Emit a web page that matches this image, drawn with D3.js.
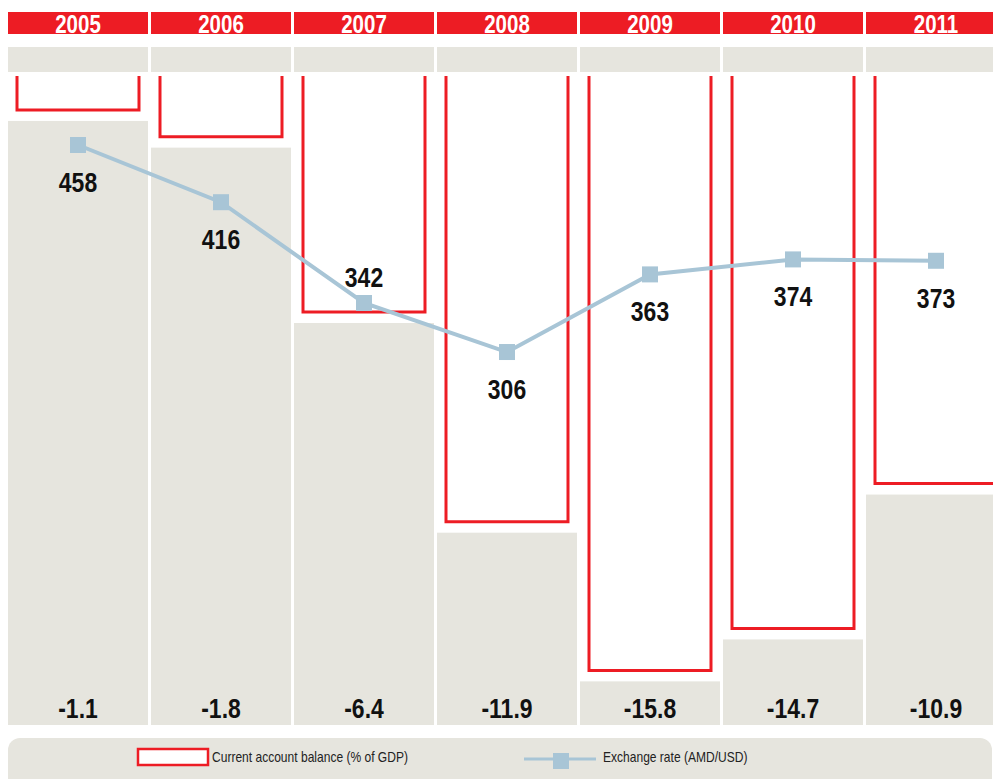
<!DOCTYPE html>
<html>
<head>
<meta charset="utf-8">
<script src="https://cdn.jsdelivr.net/npm/d3@7"></script>
<style>
  body { margin: 0; background: #fff; }
  svg { display: block; }
  .num { font-family: "Liberation Sans", Arial, sans-serif; font-weight: bold; }
  .leg { font-family: "Liberation Sans", Arial, sans-serif; }
</style>
</head>
<body>
<div id="chart"></div>
<script>
var years = ["2005", "2006", "2007", "2008", "2009", "2010", "2011"];
var balance = [-1.1, -1.8, -6.4, -11.9, -15.8, -14.7, -10.9];
var rate = [458, 416, 342, 306, 363, 374, 373];
// label above the marker only for 2007
var rateLabelAbove = [false, false, true, false, false, false, false];

var width = 993, height = 779;
var red = "#ed1c24", grey = "#e6e5de", blue = "#a8c5d6";
var narrow = 0.82; // squeeze text to look like a condensed face

var svg = d3.select("#chart").append("svg")
    .attr("width", width)
    .attr("height", height);

var x = d3.scaleBand()
    .domain(years)
    .range([8, 1006])
    .paddingInner(0.021)
    .paddingOuter(0);

var yBal = d3.scaleLinear()
    .domain([0, -16])
    .range([68, 678]);

var yRate = d3.scaleLinear()
    .domain([250, 500])
    .range([428.3, 87.8]);

var bw = x.bandwidth();
var bottom = 725;

var data = years.map(function(y, i) {
  return {year: y, bal: balance[i], rate: rate[i], above: rateLabelAbove[i]};
});

function squeeze(px, py) {
  return "translate(" + px + "," + py + ") scale(" + narrow + ",1)";
}

var cols = svg.selectAll(".col").data(data).enter()
  .append("g")
    .attr("class", "col")
    .attr("transform", function(d) { return "translate(" + x(d.year) + ",0)"; });

// year header
cols.append("rect")
    .attr("y", 12).attr("width", bw).attr("height", 22)
    .attr("fill", red);
cols.append("text")
    .attr("class", "num")
    .attr("transform", squeeze(bw / 2, 32.5))
    .attr("text-anchor", "middle")
    .attr("font-size", 25)
    .attr("fill", "#fff")
    .text(function(d) { return d.year; });

// grey band under header
cols.append("rect")
    .attr("y", 47).attr("width", bw).attr("height", 25)
    .attr("fill", grey);

// grey block below the balance bar
cols.append("rect")
    .attr("y", function(d) { return yBal(d.bal) + 11; })
    .attr("width", bw)
    .attr("height", function(d) { return bottom - yBal(d.bal) - 11; })
    .attr("fill", grey);

// open red outline for current account balance
cols.append("path")
    .attr("d", function(d) {
      return "M9," + 76 + "V" + yBal(d.bal) + "H" + (bw - 9) + "V" + 76;
    })
    .attr("fill", "none")
    .attr("stroke", red)
    .attr("stroke-width", 3);

// balance value at the bottom
cols.append("text")
    .attr("class", "num")
    .attr("transform", squeeze(bw / 2, 718))
    .attr("text-anchor", "middle")
    .attr("font-size", 28)
    .attr("fill", "#111")
    .text(function(d) { return d3.format(".1f")(d.bal).replace("\u2212", "-"); });

// exchange rate line
var cx = function(d) { return x(d.year) + bw / 2; };
var line = d3.line()
    .x(cx)
    .y(function(d) { return yRate(d.rate); });

svg.append("path")
    .datum(data)
    .attr("d", line)
    .attr("fill", "none")
    .attr("stroke", blue)
    .attr("stroke-width", 4);

svg.selectAll(".pt").data(data).enter()
  .append("rect")
    .attr("class", "pt")
    .attr("x", function(d) { return cx(d) - 8; })
    .attr("y", function(d) { return yRate(d.rate) - 8; })
    .attr("width", 16).attr("height", 16)
    .attr("fill", blue);

svg.selectAll(".rl").data(data).enter()
  .append("text")
    .attr("class", "num rl")
    .attr("transform", function(d) {
      return squeeze(cx(d), yRate(d.rate) + (d.above ? -16 : 47));
    })
    .attr("text-anchor", "middle")
    .attr("font-size", 28)
    .attr("fill", "#111")
    .text(function(d) { return d.rate; });

// legend
var leg = svg.append("g");
leg.append("rect")
    .attr("x", 8).attr("y", 738)
    .attr("width", 984).attr("height", 60)
    .attr("rx", 12)
    .attr("fill", grey);
leg.append("rect")
    .attr("x", 138).attr("y", 749)
    .attr("width", 70).attr("height", 16)
    .attr("fill", "#fff")
    .attr("stroke", red)
    .attr("stroke-width", 2.5);
leg.append("text")
    .attr("class", "leg")
    .attr("transform", "translate(212,762) scale(0.86,1)")
    .attr("font-size", 14)
    .attr("fill", "#222")
    .text("Current account balance (% of GDP)");
leg.append("line")
    .attr("x1", 524).attr("x2", 596)
    .attr("y1", 759).attr("y2", 759)
    .attr("stroke", blue)
    .attr("stroke-width", 3);
leg.append("rect")
    .attr("x", 553).attr("y", 753)
    .attr("width", 16).attr("height", 16)
    .attr("fill", blue);
leg.append("text")
    .attr("class", "leg")
    .attr("transform", "translate(603,762) scale(0.86,1)")
    .attr("font-size", 14)
    .attr("fill", "#222")
    .text("Exchange rate (AMD/USD)");
</script>
</body>
</html>
